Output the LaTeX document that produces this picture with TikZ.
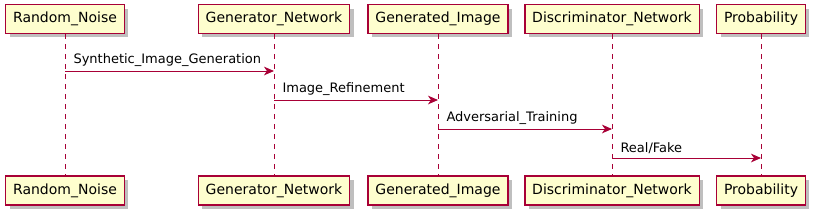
\documentclass[tikz,border=0pt]{standalone}
\usepackage{fontspec}
\setmainfont{DejaVu Sans}
\usetikzlibrary{arrows.meta,shadows}
\definecolor{umlred}{HTML}{A80036}
\definecolor{umlfill}{HTML}{FEFECE}
\begin{document}
\begin{tikzpicture}[
      x=0.75pt, y=-0.75pt,
      part/.style={draw=umlred, line width=1.1pt, fill=umlfill,
        font=\fontsize{10.5pt}{12pt}\selectfont, inner xsep=5.6pt,
        minimum height=21.5pt,
        drop shadow={shadow xshift=3pt, shadow yshift=-3pt, fill=black, opacity=0.25}},
      life/.style={draw=umlred, line width=0.75pt, dash pattern=on 3.75pt off 3.75pt},
      msg/.style={draw=umlred, line width=0.75pt,
        -{Stealth[length=7.5pt, width=6.5pt, inset=2.2pt]}},
      lbl/.style={font=\fontsize{9.75pt}{11pt}\selectfont, anchor=south west,
        inner sep=0pt, xshift=6pt, yshift=3.2pt},
    ]
    \useasboundingbox (0,0) rectangle (820,219);

    % participants, top and bottom
    \foreach \id/\x/\txt in {rn/65/Random\_Noise, gn/274/Generator\_Network,
        gi/438/Generated\_Image, dn/612/Discriminator\_Network, pb/761/Probability} {
      \node[part] (\id) at (\x, 19) {\txt};
      \node[part] (\id b) at (\x, 190.5) {\txt};
      \draw[life] (\id) -- (\id b);
    }

    % messages
    \draw[msg] (rn |- 0,71) -- node[lbl, pos=0] {Synthetic\_Image\_Generation} (gn |- 0,71);
    \draw[msg] (gn |- 0,100) -- node[lbl, pos=0] {Image\_Refinement} (gi |- 0,100);
    \draw[msg] (gi |- 0,129) -- node[lbl, pos=0] {Adversarial\_Training} (dn |- 0,129);
    \draw[msg] (dn |- 0,158) -- node[lbl, pos=0] {Real/Fake} (pb |- 0,158);
  \end{tikzpicture}
\end{document}
